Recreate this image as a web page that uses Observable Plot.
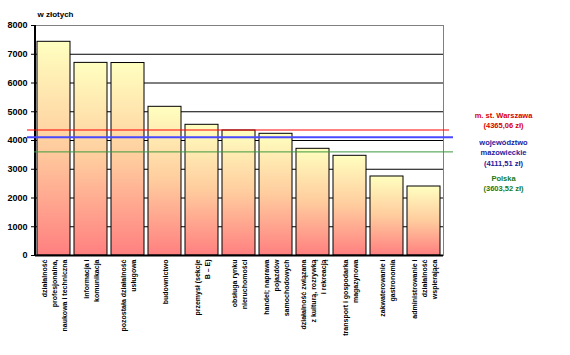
<!DOCTYPE html>
<html><head><meta charset="utf-8">
<script src="https://cdn.jsdelivr.net/npm/d3@7"></script>
<script src="https://cdn.jsdelivr.net/npm/@observablehq/plot@0.6"></script>
<style>body{margin:0;background:#fff}</style>
</head><body>
<div id="chart"></div>
<script>
const categories = [
  "działalność\nprofesjonalna,\nnaukowa i techniczna",
  "informacja i\nkomunikacja",
  "pozostała działalność\nusługowa",
  "budownictwo",
  "przemysł (sekcje\nB – E)",
  "obsługa rynku\nnieruchomości",
  "handel; naprawa\npojazdów\nsamochodowych",
  "działalność związana\nz kulturą, rozrywką\ni rekreacją",
  "transport i gospodarka\nmagazynowa",
  "zakwaterowanie i\ngastronomia",
  "administrowanie i\ndziałalność\nwspierająca"
];
const values = [7433, 6700, 6695, 5172, 4546, 4348, 4233, 3711, 3468, 2748, 2400];
const yTicks = [0, 1000, 2000, 3000, 4000, 5000, 6000, 7000, 8000];
const refNames = ["m. st. Warszawa", "województwo\nmazowieckie", "Polska"];
const refValues = [4365.06, 4111.51, 3603.52];
const refLineColors = ["#ff0000", "#4848ff", "#3c9a3c"];
const refTextColors = ["#d80000", "#1c1ca0", "#187a18"];
const unitLabel = "w złotych";

const data = categories.map((c, i) => ({cat: c, value: values[i]}));
const fmt = v => "(" + v.toFixed(2).replace(".", ",") + " zł)";
const font = "'Liberation Sans', Arial, sans-serif";

const gradDefs = () => {
  const defs = d3.create("svg:defs");
  const g = defs.append("linearGradient").attr("id", "barGrad")
    .attr("x1", 0).attr("y1", 0).attr("x2", 0).attr("y2", 1);
  g.append("stop").attr("offset", "0%").attr("stop-color", "#ffffc0");
  g.append("stop").attr("offset", "50%").attr("stop-color", "#ffcc9e");
  g.append("stop").attr("offset", "100%").attr("stop-color", "#ff8080");
  return defs.node();
};

// left axis line drawn at the frame's left edge
const leftAxisLine = (index, scales, values, dim) => {
  const y0 = scales.y(0), y1 = scales.y(8000);
  return d3.create("svg:line")
    .attr("x1", dim.marginLeft).attr("x2", dim.marginLeft)
    .attr("y1", y1).attr("y2", y0 + 1)
    .attr("stroke", "#000").attr("stroke-width", 2).node();
};

const insets = [[-8, -6], [-8, -10], [-1, -10]];
const labelDy = [94, 126.5, 157.5];

const chart = Plot.plot({
  width: 570,
  height: 355,
  marginLeft: 35,
  marginRight: 127,
  marginTop: 25,
  marginBottom: 100,
  style: {fontFamily: font, background: "#fff", overflow: "visible"},
  x: {domain: categories, paddingInner: 0.1, paddingOuter: 0.05, axis: null},
  y: {domain: [0, 8000], axis: null},
  marks: [
    gradDefs,
    Plot.gridY(yTicks.filter(t => t > 0 && t < 8000), {stroke: "#000", strokeOpacity: 1, strokeWidth: 1}),
    Plot.frame({stroke: "#808080", strokeWidth: 1}),
    Plot.barY(data, {x: "cat", y: "value", fill: "url(#barGrad)", stroke: "#000", strokeWidth: 1}),
    Plot.axisY({ticks: yTicks, label: null, tickSize: 4, tickPadding: 4, tickFormat: d => String(d), fontSize: 9, fontWeight: "bold", stroke: "#000", strokeWidth: 1, fill: "#000"}),
    Plot.ruleY([0], {stroke: "#000", strokeWidth: 2}),
    leftAxisLine,
    ...refValues.map((v, i) => Plot.ruleY([v], {stroke: refLineColors[i], strokeWidth: i === 1 ? 2 : 1, insetLeft: insets[i][0], insetRight: insets[i][1]})),
    Plot.text(data, {x: "cat", y: () => 0, text: "cat", rotate: -90, textAnchor: "end", lineAnchor: "middle", lineHeight: 1.45, dy: 4, fontSize: 7, fontWeight: "bold", fill: "#000", ariaLabel: "xlabels"}),
    ...refNames.map((n, i) => Plot.text([n + "\n" + fmt(refValues[i])], {text: d => d, frameAnchor: "top-right", textAnchor: "middle", lineAnchor: "middle", lineHeight: 1.38, dx: 60, dy: labelDy[i], fontSize: 7.5, fontWeight: "bold", fill: refTextColors[i]})),
    Plot.text([unitLabel], {text: d => d, frameAnchor: "top-left", textAnchor: "start", lineAnchor: "middle", dx: 2, dy: -11.5, fontSize: 8, fontWeight: "bold", fill: "#000"})
  ]
});
document.getElementById("chart").appendChild(chart);

// center lines within each rotated label block, block ending at the axis
d3.select(chart).selectAll('g[aria-label="xlabels"] text').each(function() {
  const t = this;
  const spans = t.querySelectorAll("tspan");
  if (spans.length) {
    let maxL = 0;
    spans.forEach(s => { maxL = Math.max(maxL, s.getComputedTextLength()); });
    t.setAttribute("text-anchor", "middle");
    spans.forEach(s => s.setAttribute("x", -maxL / 2));
  } else {
    const L = t.getComputedTextLength();
    t.setAttribute("text-anchor", "middle");
    t.setAttribute("x", -L / 2);
  }
});
</script>
</body></html>
